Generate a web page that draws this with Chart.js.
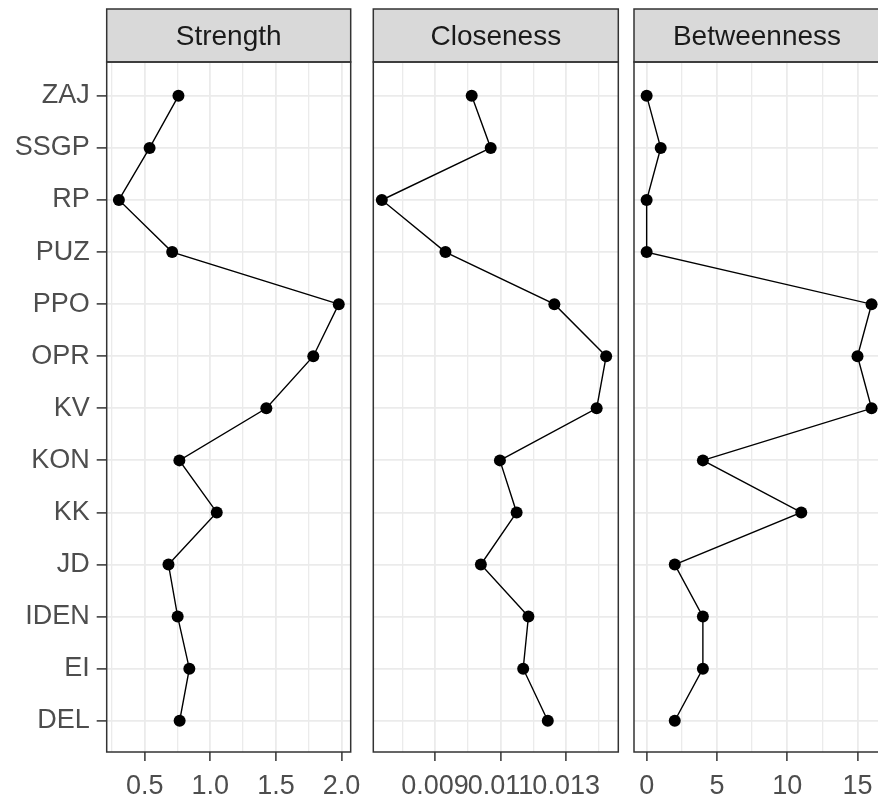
<!DOCTYPE html>
<html>
<head>
<meta charset="utf-8">
<script src="https://cdn.jsdelivr.net/npm/chart.js@4.4.1/dist/chart.umd.min.js"></script>
<style>
  html, body { margin: 0; padding: 0; background: #fff; }
  #wrap { position: relative; width: 878px; height: 800px; overflow: hidden; }
  #wrap canvas { position: absolute; top: 0; }
</style>
</head>
<body>
<div id="wrap">
  <canvas id="strength" width="370" height="800" style="left:0px"></canvas>
  <canvas id="closeness" width="290" height="800" style="left:350px"></canvas>
  <canvas id="betweenness" width="290" height="800" style="left:615px"></canvas>
</div>
<script>
// nodes, bottom to top (DEL at the bottom, ZAJ on top)
const nodes = ['DEL', 'EI', 'IDEN', 'JD', 'KK', 'KON', 'KV', 'OPR', 'PPO', 'PUZ', 'RP', 'SSGP', 'ZAJ'];

const strength    = [0.766, 0.840, 0.751, 0.681, 1.049, 0.764, 1.427, 1.785, 1.979, 0.709, 0.303, 0.537, 0.757];
const closeness   = [0.01244, 0.01169, 0.01185, 0.01040, 0.01149, 0.01098, 0.01393, 0.01422, 0.01264, 0.00932, 0.00738, 0.01070, 0.01012];
const betweenness = [2, 4, 4, 2, 11, 4, 16, 15, 16, 0, 0, 1, 0];

const strengthTicks = [0.5, 1.0, 1.5, 2.0];
const strengthMinor = [0.25, 0.75, 1.25, 1.75];
const closenessTicks = [0.009, 0.011, 0.013];
const closenessMinor = [0.008, 0.010, 0.012, 0.014];
const betweennessTicks = [0, 5, 10, 15];
const betweennessMinor = [2.5, 7.5, 12.5];

Chart.defaults.font.family = '"Liberation Sans", Arial, sans-serif';

// grey strip behind the facet title, dark frame round strip and panel
const facetFrame = {
  id: 'facetFrame',
  beforeDraw(chart) {
    const a = chart.chartArea, t = chart.titleBlock, ctx = chart.ctx;
    ctx.save();
    ctx.fillStyle = '#D9D9D9';
    ctx.fillRect(a.left, t.top, a.right - a.left, t.bottom - t.top);
    ctx.restore();
  },
  afterDraw(chart) {
    const a = chart.chartArea, t = chart.titleBlock, ctx = chart.ctx;
    ctx.save();
    ctx.strokeStyle = '#333333';
    ctx.lineWidth = 1.5;
    ctx.strokeRect(a.left, t.top, a.right - a.left, t.bottom - t.top);
    ctx.strokeRect(a.left, a.top, a.right - a.left, a.bottom - a.top);
    ctx.restore();
  }
};

function panel(id, title, values, range, major, minor, fmt, yLabels, padding) {
  const all = major.concat(minor).sort((a, b) => a - b);
  new Chart(document.getElementById(id), {
    type: 'scatter',
    data: {
      datasets: [{
        data: values.map((v, i) => ({ x: v, y: i })),
        showLine: true,
        borderColor: '#000000',
        borderWidth: 1.4,
        pointRadius: 6,
        pointHoverRadius: 6,
        pointBackgroundColor: '#000000',
        pointBorderWidth: 0
      }]
    },
    options: {
      responsive: false,
      animation: false,
      layout: { padding: padding },
      plugins: {
        legend: { display: false },
        tooltip: { enabled: false },
        title: {
          display: true,
          text: title,
          fullSize: false,
          color: '#1A1A1A',
          font: { size: 28, weight: 'normal' },
          padding: { top: 11, bottom: 8.4 }
        }
      },
      scales: {
        x: {
          type: 'linear',
          min: range[0],
          max: range[1],
          afterBuildTicks: s => { s.ticks = all.map(v => ({ value: v, minor: minor.includes(v) })); },
          afterFit: s => { s.height = 48; },
          border: { display: false },
          grid: {
            color: '#EBEBEB',
            lineWidth: c => (c.tick && c.tick.minor) ? 1.3 : 1.8,
            tickColor: c => (c.tick && c.tick.minor) ? 'rgba(0,0,0,0)' : '#333333',
            tickLength: 9,
            tickWidth: 1.5
          },
          ticks: {
            autoSkip: false,
            maxRotation: 0,
            minRotation: 0,
            padding: 9,
            color: '#4D4D4D',
            font: { size: 27 },
            callback: (v, i, ticks) => ticks[i].minor ? '' : fmt(v)
          }
        },
        y: {
          type: 'linear',
          min: -0.6,
          max: 12.65,
          afterBuildTicks: s => { s.ticks = nodes.map((n, i) => ({ value: i })); },
          afterFit: s => { s.width = yLabels ? 106.7 : 0; },
          border: { display: false },
          grid: {
            color: '#EBEBEB',
            lineWidth: 1.8,
            drawTicks: yLabels,
            tickColor: '#333333',
            tickLength: 10,
            tickWidth: 1.5
          },
          ticks: {
            display: yLabels,
            padding: 7,
            color: '#4D4D4D',
            font: { size: 27 },
            callback: v => nodes[v]
          }
        }
      }
    },
    plugins: [facetFrame]
  });
}

panel('strength', 'Strength', strength, [0.21, 2.07], strengthTicks, strengthMinor,
  v => v.toFixed(1), true, { top: 9, left: 0, right: 17.3, bottom: 0 });
panel('closeness', 'Closeness', closeness, [0.00712, 0.01459], closenessTicks, closenessMinor,
  v => v.toFixed(3), false, { top: 9, left: 23.3, right: 21.7, bottom: 0 });
panel('betweenness', 'Betweenness', betweenness, [-0.9, 16.6], betweennessTicks, betweennessMinor,
  v => String(v), false, { top: 9, left: 19, right: 25, bottom: 0 });
</script>
</body>
</html>
